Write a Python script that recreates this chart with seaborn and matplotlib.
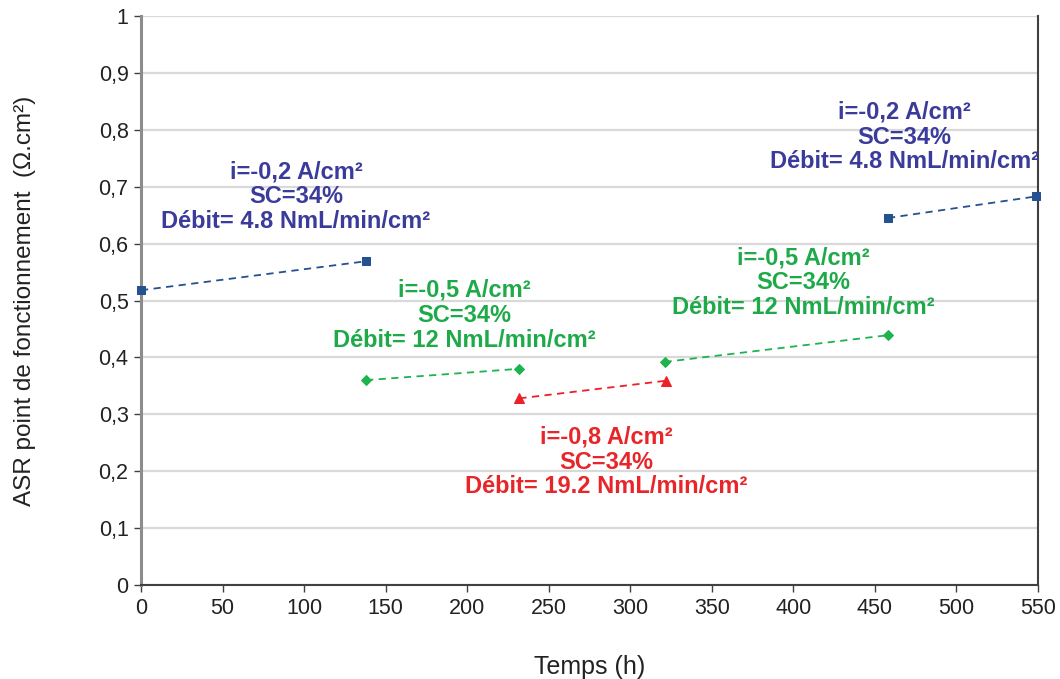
import matplotlib
matplotlib.use("Agg")
import matplotlib.pyplot as plt
import seaborn as sns
import pandas as pd

# Data
seg_blue1_x = [0, 138]
seg_blue1_y = [0.518, 0.569]
seg_green1_x = [138, 232]
seg_green1_y = [0.360, 0.380]
seg_red_x = [232, 322]
seg_red_y = [0.328, 0.359]
seg_green2_x = [321, 458]
seg_green2_y = [0.392, 0.439]
seg_blue2_x = [458, 549]
seg_blue2_y = [0.645, 0.683]

label_blue = "i=-0,2 A/cm²\nSC=34%\nDébit= 4.8 NmL/min/cm²"
label_green = "i=-0,5 A/cm²\nSC=34%\nDébit= 12 NmL/min/cm²"
label_red = "i=-0,8 A/cm²\nSC=34%\nDébit= 19.2 NmL/min/cm²"

sns.set_theme(style="white")
plt.rcParams['font.family'] = ['Liberation Sans', 'DejaVu Sans']

fig = plt.figure(figsize=(10.6, 6.79), dpi=100)
ax = fig.add_axes([141/1060, 1 - 585/679, (1038-141)/1060, (585-16)/679])

line_blue = "#24518f"
line_green = "#1db34f"
line_red = "#ec2027"
txt_blue = "#3b3b9b"
txt_green = "#1faa4a"
txt_red = "#e8262a"

segs = [
    (seg_blue1_x, seg_blue1_y, line_blue, "s", 6),
    (seg_green1_x, seg_green1_y, line_green, "D", 5),
    (seg_red_x, seg_red_y, line_red, "^", 7),
    (seg_green2_x, seg_green2_y, line_green, "D", 5),
    (seg_blue2_x, seg_blue2_y, line_blue, "s", 6),
]
for xs, ys, c, m, ms in segs:
    df = pd.DataFrame({"x": xs, "y": ys})
    sns.lineplot(data=df, x="x", y="y", ax=ax, color=c, linestyle=(0, (4, 3)),
                 linewidth=1.3, marker=m, markersize=ms, markeredgecolor=c,
                 markerfacecolor=c, clip_on=False, zorder=3)

ax.set_xlim(0, 550)
ax.set_ylim(0, 1)
ax.set_xticks(range(0, 551, 50))
ax.set_yticks([i / 10 for i in range(11)])
ax.set_yticklabels(["0", "0,1", "0,2", "0,3", "0,4", "0,5", "0,6", "0,7", "0,8", "0,9", "1"])
ax.yaxis.grid(True, color="#d9d9d9", linewidth=1.6)
ax.xaxis.grid(False)
ax.set_axisbelow(True)

for s in ["left", "bottom", "right"]:
    ax.spines[s].set_visible(True)
    ax.spines[s].set_color("#404040")
    ax.spines[s].set_linewidth(1.5)
ax.spines["top"].set_visible(False)
ax.spines["left"].set_color("#8c8c8c")
ax.spines["left"].set_linewidth(2.2)

ax.tick_params(axis="both", which="major", direction="out", length=5, width=1,
               color="#404040", labelsize=15.5, labelcolor="#222222", pad=4,
               left=True, bottom=True)

ax.set_xlabel("Temps (h)", fontsize=18, color="#222222", labelpad=26)
ax.set_ylabel("ASR point de fonctionnement  (Ω.cm²)", fontsize=17.5, color="#222222", labelpad=45)

tkw = dict(ha="center", va="center", fontsize=17, fontweight="bold", linespacing=1.1)
ax.text(95, 0.682, label_blue, color=txt_blue, **tkw)
ax.text(198.5, 0.474, label_green, color=txt_green, **tkw)
ax.text(406, 0.531, label_green, color=txt_green, **tkw)
ax.text(468, 0.787, label_blue, color=txt_blue, **tkw)
ax.text(285.5, 0.216, label_red, color=txt_red, **tkw)

fig.savefig("out.png", dpi=100)
